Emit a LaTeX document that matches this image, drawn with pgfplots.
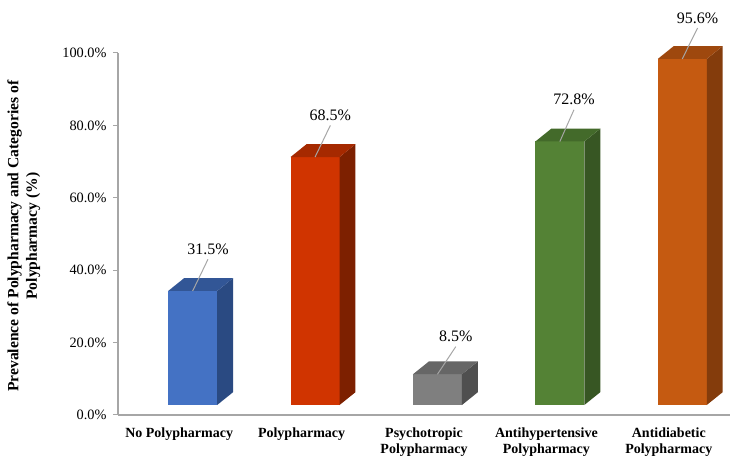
\documentclass[border=0pt]{standalone}
\usepackage{fontspec}
\setmainfont{Liberation Serif}
\usepackage{pgfplots}
\pgfplotsset{compat=1.18}

\definecolor{axisgrey}{HTML}{A6A6A6}
\definecolor{blueF}{HTML}{4472C4}
\definecolor{blueS}{HTML}{2A4A82}
\definecolor{blueT}{HTML}{325696}
\definecolor{redF}{HTML}{D03400}
\definecolor{redS}{HTML}{7D2000}
\definecolor{redT}{HTML}{A52900}
\definecolor{greyF}{HTML}{7F7F7F}
\definecolor{greyS}{HTML}{4F4F4F}
\definecolor{greyT}{HTML}{666666}
\definecolor{greenF}{HTML}{548235}
\definecolor{greenS}{HTML}{375623}
\definecolor{greenT}{HTML}{436A2A}
\definecolor{orangeF}{HTML}{C55A11}
\definecolor{orangeS}{HTML}{843C0C}
\definecolor{orangeT}{HTML}{9E480E}

% position, value, colour stem, label dx, label dy: front, side, top face, leader and label
\newcommand{\tdbar}[5]{
  \addplot[fill=#3F, draw=none] coordinates {(#1-0.09,2.76) (#1+0.31,2.76) (#1+0.31,#2+2.76) (#1-0.09,#2+2.76)};
  \addplot[fill=#3S, draw=none] coordinates {(#1+0.31,2.76) (#1+0.44,6.3) (#1+0.44,#2+6.3) (#1+0.31,#2+2.76)};
  \addplot[fill=#3T, draw=none] coordinates {(#1-0.09,#2+2.76) (#1+0.31,#2+2.76) (#1+0.44,#2+6.3) (#1+0.04,#2+6.3)};
  \addplot[axisgrey, line width=1pt] coordinates {(#1+0.11,#2+2.76) (#1+0.235+#4,#2+11.5+#5)};
  \node[font=\fontsize{16}{16}\selectfont] at (axis cs:#1+0.235+#4,#2+14.3+#5) {#2\%};
}

\begin{document}
\begin{tikzpicture}
\begin{axis}[
    scale only axis,
    width=612pt, height=362pt,
    xmin=-0.5, xmax=4.5,
    ymin=0, ymax=100,
    clip=false,
    axis x line*=bottom,
    axis y line*=left,
    axis line style={axisgrey, line width=1.5pt},
    xtick={0,1,2,3,4},
    xticklabels={No Polypharmacy, Polypharmacy, Psychotropic\\Polypharmacy, Antihypertensive\\Polypharmacy, Antidiabetic\\Polypharmacy},
    x tick label style={font=\fontsize{14}{16.5}\selectfont\bfseries, align=center, yshift=-4pt},
    major x tick style={draw=none},
    ytick={0,20,40,60,80,100},
    yticklabels={0.0\%, 20.0\%, 40.0\%, 60.0\%, 80.0\%, 100.0\%},
    y tick label style={font=\fontsize{14.3}{14}\selectfont, xshift=-3pt},
    tick align=outside,
    major tick length=5pt,
    y tick style={axisgrey, line width=1pt},
    ylabel={Prevalence of Polypharmacy and Categories of\\Polypharmacy (\%)},
    ylabel style={font=\fontsize{15.6}{18.5}\selectfont\bfseries, align=center, anchor=center, at={(axis description cs:-0.154,0.494)}},
]
\tdbar{0}{31.5}{blue}{0}{0}
\tdbar{1}{68.5}{red}{0}{0}
\tdbar{2}{8.5}{grey}{0.025}{-1.1}
\tdbar{3}{72.8}{green}{-0.01}{0}
\tdbar{4}{95.6}{orange}{0}{-0.2}
\end{axis}
\path[use as bounding box] (-118pt,-53pt) rectangle (626pt,415pt);
\end{tikzpicture}
\end{document}
